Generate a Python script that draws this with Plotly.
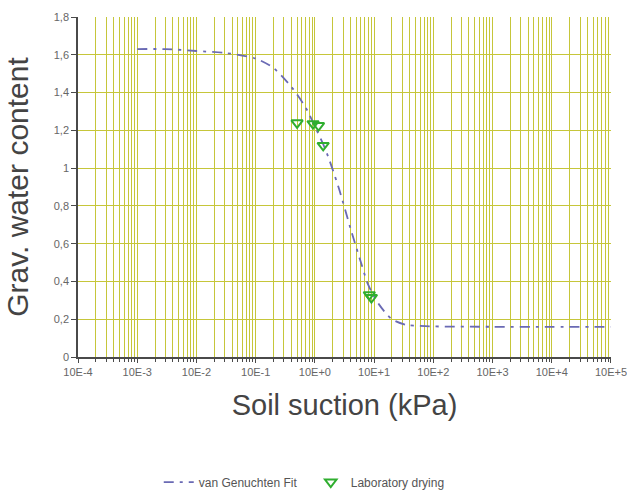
import plotly.graph_objects as go

# ---- data ----
fit_suction = [1e-3, 3e-3, 1e-2, 3e-2, 0.1, 0.2, 0.4, 0.7, 1.0, 1.5, 2.5, 4, 6, 8, 12, 20, 35, 60, 100, 1e3, 1e4, 1e5]
fit_water = [1.63, 1.63, 1.62, 1.61, 1.58, 1.53, 1.43, 1.32, 1.22, 1.10, 0.90, 0.68, 0.50, 0.38, 0.28, 0.20, 0.17, 0.165, 0.162, 0.16, 0.16, 0.16]

lab_suction = [0.50, 0.93, 1.15, 1.38, 8.3, 9.0]
lab_water = [1.24, 1.235, 1.225, 1.12, 0.33, 0.315]

x_tickvals = [1e-4, 1e-3, 1e-2, 1e-1, 1e0, 1e1, 1e2, 1e3, 1e4, 1e5]
x_ticktext = ["10E-4", "10E-3", "10E-2", "10E-1", "10E+0", "10E+1", "10E+2", "10E+3", "10E+4", "10E+5"]
y_tickvals = [0, 0.2, 0.4, 0.6, 0.8, 1.0, 1.2, 1.4, 1.6, 1.8]
y_ticktext = ["0", "0,2", "0,4", "0,6", "0,8", "1", "1,2", "1,4", "1,6", "1,8"]

minor_vals = [k * 10.0 ** e for e in range(-4, 5) for k in range(2, 10)]

GRID = "#c6c63a"
AXIS = "#4a4a4a"
FONT = "Liberation Sans, Arial, sans-serif"

fig = go.Figure()
fig.add_trace(go.Scatter(
    x=fit_suction, y=fit_water, mode="lines", name="van Genuchten Fit",
    line=dict(color="#6a6ab4", width=1.8, dash="10px,6px,3px,6px", shape="spline", smoothing=0.8),
))
fig.add_trace(go.Scatter(
    x=lab_suction, y=lab_water, mode="markers", name="Laboratory drying",
    marker=dict(symbol="triangle-down-open", size=10, color="#2fae2f", line=dict(width=2, color="#2fae2f")),
))

fig.update_layout(
    template="none",
    width=627, height=491,
    margin=dict(l=78, r=16, t=17, b=134, autoexpand=False),
    paper_bgcolor="white", plot_bgcolor="white",
    font=dict(family=FONT, color="#555555", size=11),
    showlegend=True,
    legend=dict(orientation="h", x=0.1515, xanchor="left", y=-0.368, yanchor="middle",
                font=dict(size=12, color="#555555"), itemwidth=30, entrywidth=107,
                bgcolor="rgba(0,0,0,0)"),
)
fig.update_xaxes(
    type="log", range=[-4.0005, 5.0005], automargin=False,
    tickmode="array", tickvals=x_tickvals, ticktext=x_ticktext,
    tickfont=dict(size=11, color="#666666"), ticklabeloverflow="allow",
    showgrid=True, gridcolor=GRID, gridwidth=1,
    ticks="outside", ticklen=4, tickcolor=AXIS, tickwidth=1,
    showline=True, linecolor=AXIS, linewidth=1.5,
    zeroline=False,
    minor=dict(tickmode="array", tickvals=minor_vals, showgrid=True, gridcolor=GRID, gridwidth=1,
               ticks="outside", ticklen=3, tickcolor=AXIS),
    title=dict(text="Soil suction (kPa)", font=dict(size=29, color="#444444"), standoff=18),
)
fig.update_yaxes(
    range=[0, 1.8], automargin=False,
    tickmode="array", tickvals=y_tickvals, ticktext=y_ticktext,
    tickfont=dict(size=11, color="#666666"),
    showgrid=True, gridcolor=GRID, gridwidth=1,
    ticks="outside", ticklen=5, tickcolor=AXIS, tickwidth=1,
    showline=True, linecolor=AXIS, linewidth=1.5,
    zeroline=False,
    title=dict(text="Grav. water content", font=dict(size=30, color="#444444"), standoff=16),
)

fig.write_html("out.html")
